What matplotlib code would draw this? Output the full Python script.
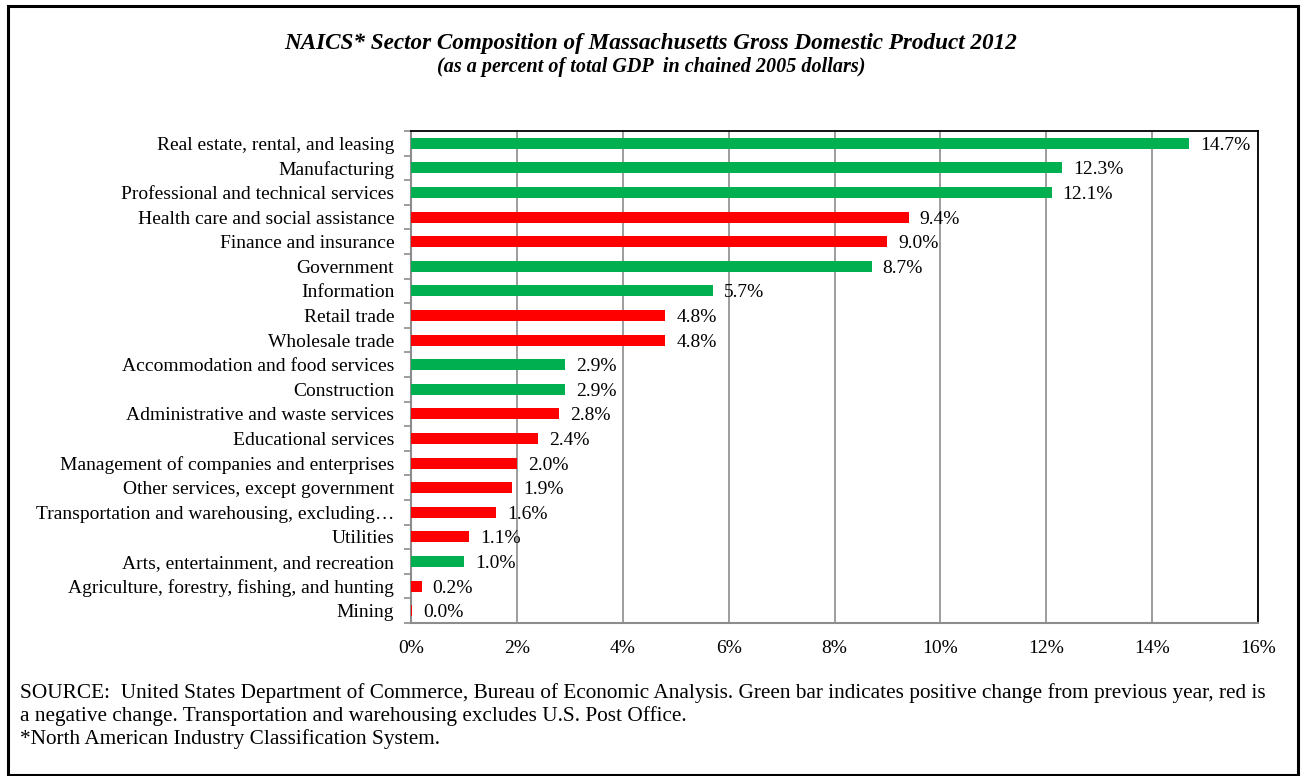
import numpy as np
import matplotlib.pyplot as plt
from matplotlib.patches import Rectangle

# sectors, top to bottom
sectors = [
    "Real estate, rental, and leasing",
    "Manufacturing",
    "Professional and technical services",
    "Health care and social assistance",
    "Finance and insurance",
    "Government",
    "Information",
    "Retail trade",
    "Wholesale trade",
    "Accommodation and food services",
    "Construction",
    "Administrative and waste services",
    "Educational services",
    "Management of companies and enterprises",
    "Other services, except government",
    "Transportation and warehousing, excluding\u2026",
    "Utilities",
    "Arts, entertainment, and recreation",
    "Agriculture, forestry, fishing, and hunting",
    "Mining",
]
shares = [14.7, 12.3, 12.1, 9.4, 9.0, 8.7, 5.7, 4.8, 4.8, 2.9,
          2.9, 2.8, 2.4, 2.0, 1.9, 1.6, 1.1, 1.0, 0.2, 0.02]
# True = positive change from previous year (green), False = negative (red)
positive = [True, True, True, False, False, True, True, False, False, True,
            True, False, False, False, False, False, False, True, False, False]
x_ticks = [0, 2, 4, 6, 8, 10, 12, 14, 16]

notes = [
    "SOURCE:  United States Department of Commerce, Bureau of Economic Analysis. Green bar indicates positive change from previous year, red is",
    "a negative change. Transportation and warehousing excludes U.S. Post Office.",
    "*North American Industry Classification System.",
]

GREEN = "#00B050"
RED = "#FF0000"
GRID = "#8C8C8C"

plt.rcParams['font.family'] = ['Liberation Serif', 'DejaVu Serif']

fig = plt.figure(figsize=(13.02, 7.76), dpi=100)
ax = fig.add_axes([0.3157, 0.1972, 0.6505, 0.634])

ypos = np.arange(len(sectors))
colors = [GREEN if p else RED for p in positive]
ax.barh(ypos, shares, height=0.45, color=colors, zorder=3)

for y, v in zip(ypos, shares):
    ax.annotate(f"{v:.1f}%", (v, y), xytext=(8, -1.5), textcoords="offset points",
                va="center", ha="left", fontsize=14, zorder=4)

ax.set_xlim(0, 16)
ax.set_ylim(len(sectors) - 0.5, -0.5)
ax.set_xticks(x_ticks)
ax.set_xticklabels([f"{t}%" for t in x_ticks], fontsize=14)
ax.tick_params(axis="x", length=0, pad=12)
ax.set_yticks(ypos)
ax.set_yticklabels(sectors, fontsize=14)
ax.tick_params(axis="y", which="major", length=0, pad=12)
ax.set_yticks(np.arange(len(sectors) + 1) - 0.5, minor=True)
ax.tick_params(axis="y", which="minor", length=5, color=GRID, width=1.2)

ax.grid(axis="x", color=GRID, linewidth=1.2, zorder=0)
for side in ("left", "bottom"):
    ax.spines[side].set_color(GRID)
    ax.spines[side].set_linewidth(1.5)
for side in ("top", "right"):
    ax.spines[side].set_color("black")
    ax.spines[side].set_linewidth(1.3)

fig.text(0.5, 1 - 44 / 776, "NAICS* Sector Composition of Massachusetts Gross Domestic Product 2012",
         ha="center", va="center", fontsize=16.7, fontweight="bold", fontstyle="italic")
fig.text(0.5, 1 - 67 / 776, "(as a percent of total GDP  in chained 2005 dollars)",
         ha="center", va="center", fontsize=14.5, fontweight="bold", fontstyle="italic")

for i, line in enumerate(notes):
    fig.text(20 / 1302, 1 - (693 + 23 * i) / 776, line, ha="left", va="center", fontsize=15.3)

fig.patches.append(Rectangle((8 / 1302, 1 / 776), 1290 / 1302, 769 / 776,
                             transform=fig.transFigure, fill=False,
                             edgecolor="black", linewidth=2.2))

fig.savefig("out.png", dpi=100)
